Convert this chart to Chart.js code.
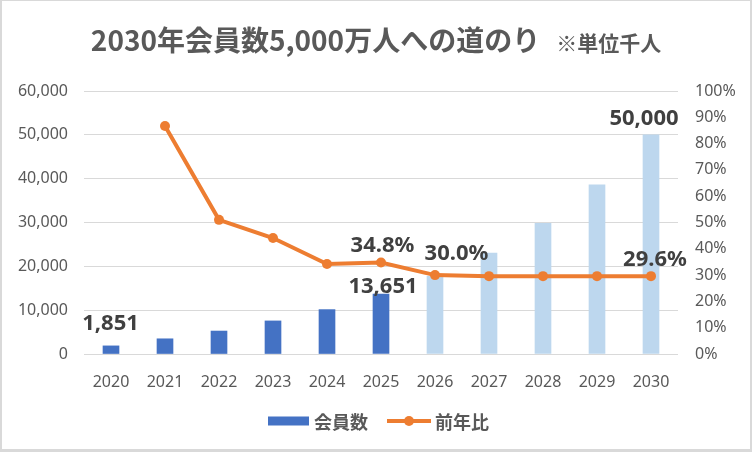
<!DOCTYPE html>
<html lang="ja">
<head>
<meta charset="utf-8">
<title>2030年会員数5,000万人への道のり</title>
<script src="https://cdn.jsdelivr.net/npm/chart.js@4.4.1/dist/chart.umd.min.js"></script>
<style>
  html, body { margin: 0; padding: 0; background: #fff; }
  #frame { position: relative; width: 752px; height: 452px; background: #d9d9d9; }
  #box { position: absolute; left: 2px; top: 1px; width: 748px; height: 448px; background: #fff; }
</style>
</head>
<body>
<div id="frame"><div id="box"><canvas id="chart" width="748" height="448"></canvas></div></div>
<script>
// data (会員数: thousand people, 前年比: percent)
const years = ['2020', '2021', '2022', '2023', '2024', '2025', '2026', '2027', '2028', '2029', '2030'];
const members = [1851, 3468, 5237, 7546, 10127, 13651, 17746, 23000, 29800, 38600, 50000];
const growth = [null, 86.7, 51.0, 44.1, 34.2, 34.8, 30.0, 29.6, 29.6, 29.6, 29.6];
const firstForecastYear = '2026';
const memberTicks = [0, 60000, 10000];   // min, max, step
const growthTicks = [0, 100, 10];

const gray = '#595959';
const labelGray = '#404040';
const blue = '#4472C4';
const lightBlue = '#BDD7EE';
const orange = '#ED7D31';
const cjk = '"Noto Sans CJK JP", "Noto Sans", sans-serif';
const latin = '"Noto Sans", "Noto Sans CJK JP", sans-serif';

// which values get a label, and where it sits relative to the mark
const barLabels = [
  { index: 0, dx: -0.5, dy: -24 },
  { index: 5, dx: 2, dy: -9.5 },
  { index: 10, dx: -7, dy: -17.5 }
];
const lineLabels = [
  { index: 5, dx: 1.5, dy: -18 },
  { index: 6, dx: 21.5, dy: -23.5 },
  { index: 10, dx: 4, dy: -18.5 }
];

const forecastStart = years.indexOf(firstForecastYear);

const decorations = {
  id: 'decorations',
  afterDatasetsDraw(chart) {
    const ctx = chart.ctx;
    ctx.save();

    // data labels
    ctx.fillStyle = labelGray;
    ctx.font = 'bold 22px ' + latin;
    ctx.textAlign = 'center';
    ctx.textBaseline = 'alphabetic';
    const barMeta = chart.getDatasetMeta(1);
    barLabels.forEach(l => {
      const el = barMeta.data[l.index];
      ctx.fillText(members[l.index].toLocaleString('en-US'), el.x + l.dx, el.y + l.dy + 8);
    });
    const lineMeta = chart.getDatasetMeta(0);
    lineLabels.forEach(l => {
      const el = lineMeta.data[l.index];
      ctx.fillText(growth[l.index].toFixed(1) + '%', el.x + l.dx, el.y + l.dy + 8);
    });

    // title
    const main = '2030年会員数5,000万人への道のり';
    const note = '※単位千人';
    const mainFont = 'bold 28px ' + cjk;
    const noteFont = 'bold 21px ' + cjk;
    ctx.font = mainFont;
    const wMain = ctx.measureText(main).width;
    ctx.font = noteFont;
    const wNote = ctx.measureText(note).width;
    const gap = 16;
    let x = 374 - (wMain + gap + wNote) / 2;
    ctx.textAlign = 'left';
    ctx.fillStyle = gray;
    ctx.font = mainFont;
    ctx.fillText(main, x, 50);
    ctx.font = noteFont;
    ctx.fillText(note, x + wMain + gap, 50);

    // legend
    ctx.fillStyle = blue;
    ctx.fillRect(266, 415.5, 41, 9);
    ctx.strokeStyle = orange;
    ctx.lineWidth = 4;
    ctx.beginPath();
    ctx.moveTo(385, 420);
    ctx.lineTo(429, 420);
    ctx.stroke();
    ctx.fillStyle = orange;
    ctx.beginPath();
    ctx.arc(407, 420, 5, 0, Math.PI * 2);
    ctx.fill();
    ctx.fillStyle = gray;
    ctx.font = 'bold 18px ' + cjk;
    ctx.textBaseline = 'middle';
    ctx.fillText('会員数', 312, 421);
    ctx.fillText('前年比', 433, 421);

    ctx.restore();
  }
};

new Chart(document.getElementById('chart'), {
  data: {
    labels: years,
    datasets: [
      {
        type: 'line',
        label: '前年比',
        data: growth,
        yAxisID: 'y1',
        borderColor: orange,
        backgroundColor: orange,
        borderWidth: 4,
        pointRadius: 5,
        pointBorderWidth: 0,
        pointBackgroundColor: orange,
        tension: 0,
        order: 0
      },
      {
        type: 'bar',
        label: '会員数',
        data: members,
        yAxisID: 'y',
        backgroundColor: members.map((v, i) => i >= forecastStart ? lightBlue : blue),
        barThickness: 16,
        order: 1
      }
    ]
  },
  options: {
    responsive: false,
    animation: false,
    events: [],
    layout: { padding: { left: 2, right: 12, top: 90, bottom: 55 } },
    plugins: {
      legend: { display: false },
      title: { display: false },
      tooltip: { enabled: false }
    },
    scales: {
      x: {
        grid: { display: false },
        border: { display: false },
        ticks: { color: gray, font: { family: latin, size: 16 }, padding: 11, maxRotation: 0 },
        afterFit: s => { s.height = 40; }
      },
      y: {
        position: 'left',
        min: memberTicks[0],
        max: memberTicks[1],
        grid: { color: '#d9d9d9', lineWidth: 1, drawTicks: false },
        border: { display: false },
        ticks: {
          stepSize: memberTicks[2],
          color: gray,
          font: { family: latin, size: 16 },
          padding: 16,
          callback: v => v.toLocaleString('en-US')
        },
        afterFit: s => { s.width = 80; }
      },
      y1: {
        position: 'right',
        min: growthTicks[0],
        max: growthTicks[1],
        grid: { display: false, drawTicks: false },
        border: { display: false },
        ticks: {
          stepSize: growthTicks[2],
          color: gray,
          font: { family: latin, size: 16 },
          padding: 17,
          callback: v => v + '%'
        },
        afterFit: s => { s.width = 60; }
      }
    }
  },
  plugins: [decorations]
});
</script>
</body>
</html>
